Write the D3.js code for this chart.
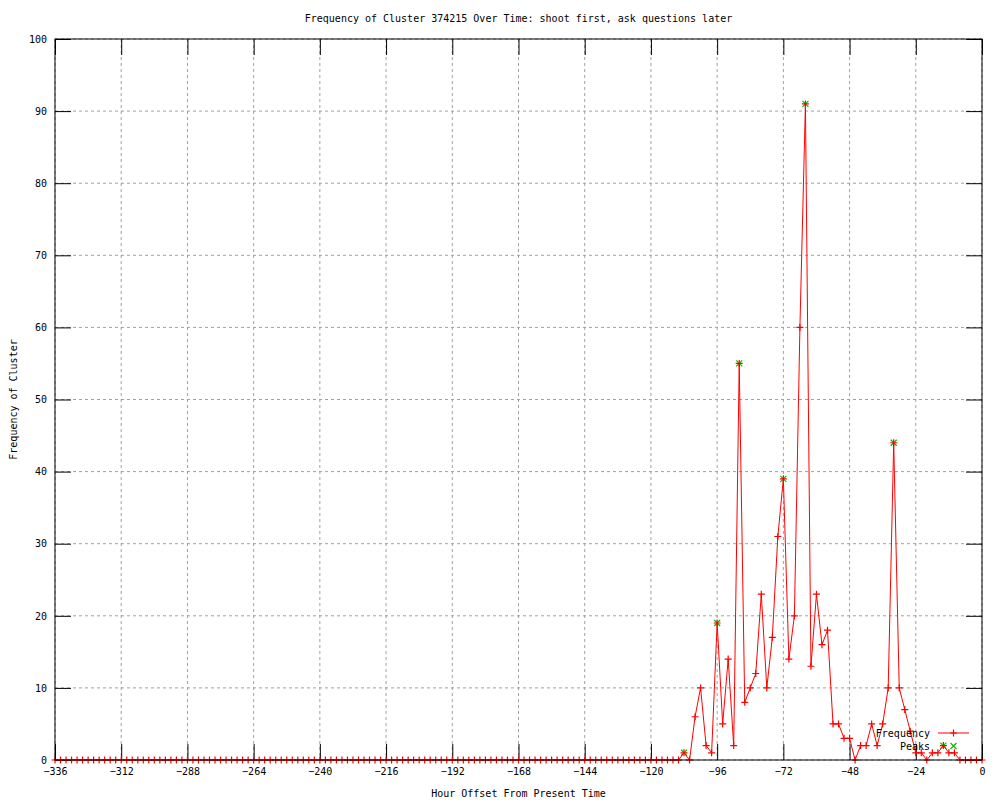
<!DOCTYPE html>
<html>
<head>
    <meta charset="utf-8">
    <title>Frequency of Cluster 374215</title>
    <script src="https://cdn.jsdelivr.net/npm/d3@7"></script>
    <style>
        body { margin: 0; background: #fff; }
        text { font-family: "DejaVu Sans Mono", monospace; font-size: 10px; fill: #000; }
    </style>
</head>
<body>
<svg id="chart" width="1000" height="800"></svg>

<script type="text/javascript">
    const titleText = "Frequency of Cluster 374215 Over Time: shoot first, ask questions later";
    const xLabel = "Hour Offset From Present Time";
    const yLabel = "Frequency of Cluster";

    /// one sample every two hours, oldest first
    const hours = [
        -336, -334, -332, -330, -328, -326, -324, -322, -320, -318, -316, -314,
        -312, -310, -308, -306, -304, -302, -300, -298, -296, -294, -292, -290,
        -288, -286, -284, -282, -280, -278, -276, -274, -272, -270, -268, -266,
        -264, -262, -260, -258, -256, -254, -252, -250, -248, -246, -244, -242,
        -240, -238, -236, -234, -232, -230, -228, -226, -224, -222, -220, -218,
        -216, -214, -212, -210, -208, -206, -204, -202, -200, -198, -196, -194,
        -192, -190, -188, -186, -184, -182, -180, -178, -176, -174, -172, -170,
        -168, -166, -164, -162, -160, -158, -156, -154, -152, -150, -148, -146,
        -144, -142, -140, -138, -136, -134, -132, -130, -128, -126, -124, -122,
        -120, -118, -116, -114, -112, -110, -108, -106, -104, -102, -100, -98,
        -96, -94, -92, -90, -88, -86, -84, -82, -80, -78, -76, -74,
        -72, -70, -68, -66, -64, -62, -60, -58, -56, -54, -52, -50,
        -48, -46, -44, -42, -40, -38, -36, -34, -32, -30, -28, -26,
        -24, -22, -20, -18, -16, -14, -12, -10, -8, -6, -4, -2,
        0
    ];
    const frequency = [
        0, 0, 0, 0, 0, 0, 0, 0, 0, 0, 0, 0,
        0, 0, 0, 0, 0, 0, 0, 0, 0, 0, 0, 0,
        0, 0, 0, 0, 0, 0, 0, 0, 0, 0, 0, 0,
        0, 0, 0, 0, 0, 0, 0, 0, 0, 0, 0, 0,
        0, 0, 0, 0, 0, 0, 0, 0, 0, 0, 0, 0,
        0, 0, 0, 0, 0, 0, 0, 0, 0, 0, 0, 0,
        0, 0, 0, 0, 0, 0, 0, 0, 0, 0, 0, 0,
        0, 0, 0, 0, 0, 0, 0, 0, 0, 0, 0, 0,
        0, 0, 0, 0, 0, 0, 0, 0, 0, 0, 0, 0,
        0, 0, 0, 0, 0, 0, 1, 0, 6, 10, 2, 1,
        19, 5, 14, 2, 55, 8, 10, 12, 23, 10, 17, 31,
        39, 14, 20, 60, 91, 13, 23, 16, 18, 5, 5, 3,
        3, 0, 2, 2, 5, 2, 5, 10, 44, 10, 7, 4,
        1, 1, 0, 1, 1, 2, 1, 1, 0, 0, 0, 0,
        0
    ];

    const peakHours = [-108, -96, -88, -72, -64, -32, -14];
    const peakValues = [1, 19, 55, 39, 91, 44, 2];

    const xTicks = [-336, -312, -288, -264, -240, -216, -192, -168, -144, -120, -96, -72, -48, -24, 0];
    const yTicks = [0, 10, 20, 30, 40, 50, 60, 70, 80, 90, 100];

    const plot = {left: 55, right: 982, top: 39, bottom: 760};
    const tickLen = 16;
    const red = "#ff0000";
    const green = "#00c000";

    const svg = d3.select("#chart");
    svg.append("rect").attr("width", 1000).attr("height", 800).attr("fill", "#fff");

    const x = d3.scaleLinear().domain([-336, 0]).range([plot.left, plot.right]);
    const y = d3.scaleLinear().domain([0, 100]).range([plot.bottom, plot.top]);

    /// grid (gray dotted)
    const grid = svg.append("g");
    grid.selectAll("line.gx")
        .data(xTicks)
        .join("line")
        .attr("x1", d => x(d)).attr("x2", d => x(d))
        .attr("y1", plot.top).attr("y2", plot.bottom);
    grid.selectAll("line.gy")
        .data(yTicks)
        .join("line")
        .attr("class", "gy")
        .attr("x1", plot.left).attr("x2", plot.right)
        .attr("y1", d => y(d)).attr("y2", d => y(d));
    grid.selectAll("line")
        .attr("stroke", "#a0a0a0")
        .attr("stroke-width", 1)
        .attr("stroke-dasharray", "3,3");

    /// axes: ticks point inwards, mirrored on top / right
    function styleAxis(g, hideText) {
        g.select(".domain").remove();
        g.selectAll(".tick line").attr("stroke", "#000");
        g.selectAll(".tick text")
            .style("font-family", '"DejaVu Sans Mono", monospace')
            .style("font-size", "10px")
            .attr("fill", "#000");
        if (hideText) g.selectAll(".tick text").remove();
    }

    svg.append("g")
        .attr("transform", `translate(0, ${plot.bottom})`)
        .call(d3.axisBottom(x).tickValues(xTicks).tickFormat(d3.format("d")).tickSize(-tickLen).tickPadding(8))
        .call(g => styleAxis(g, false));
    svg.append("g")
        .attr("transform", `translate(0, ${plot.top})`)
        .call(d3.axisTop(x).tickValues(xTicks).tickSize(-tickLen))
        .call(g => styleAxis(g, true));
    svg.append("g")
        .attr("transform", `translate(${plot.left}, 0)`)
        .call(d3.axisLeft(y).tickValues(yTicks).tickFormat(d3.format("d")).tickSize(-tickLen).tickPadding(8))
        .call(g => styleAxis(g, false));
    svg.append("g")
        .attr("transform", `translate(${plot.right}, 0)`)
        .call(d3.axisRight(y).tickValues(yTicks).tickSize(-tickLen))
        .call(g => styleAxis(g, true));

    function drawPlus(g, cx, cy, color) {
        g.append("path")
            .attr("d", `M${cx - 3.5},${cy}H${cx + 3.5}M${cx},${cy - 3.5}V${cy + 3.5}`)
            .attr("stroke", color)
            .attr("stroke-width", 1.2)
            .attr("fill", "none");
    }
    function drawCross(g, cx, cy, color) {
        g.append("path")
            .attr("d", `M${cx - 3},${cy - 3}L${cx + 3},${cy + 3}M${cx - 3},${cy + 3}L${cx + 3},${cy - 3}`)
            .attr("stroke", color)
            .attr("stroke-width", 1.2)
            .attr("fill", "none");
    }

    /// peaks first, the frequency line is drawn over them
    const peaks = svg.append("g");
    peakHours.forEach((h, i) => drawCross(peaks, x(h), y(peakValues[i]), green));

    /// frequency line + markers
    const series = hours.map((h, i) => [h, frequency[i]]);
    svg.append("path")
        .datum(series)
        .attr("fill", "none")
        .attr("stroke", red)
        .attr("stroke-width", 1)
        .attr("d", d3.line().x(d => x(d[0])).y(d => y(d[1])));

    const marks = svg.append("g");
    series.forEach(d => drawPlus(marks, x(d[0]), y(d[1]), red));

    /// border on top
    svg.append("rect")
        .attr("x", plot.left).attr("y", plot.top)
        .attr("width", plot.right - plot.left).attr("height", plot.bottom - plot.top)
        .attr("fill", "none").attr("stroke", "#000").attr("stroke-width", 1);

    /// legend
    const legend = svg.append("g");
    legend.append("text").attr("x", 930).attr("y", 733).attr("dy", "0.35em")
        .attr("text-anchor", "end").text("Frequency");
    legend.append("line")
        .attr("x1", 938).attr("x2", 969).attr("y1", 733).attr("y2", 733)
        .attr("stroke", red).attr("stroke-width", 1);
    drawPlus(legend, 953.5, 733, red);
    legend.append("text").attr("x", 930).attr("y", 746).attr("dy", "0.35em")
        .attr("text-anchor", "end").text("Peaks");
    drawCross(legend, 953.5, 746, green);

    /// titles
    svg.append("text")
        .attr("x", (plot.left + plot.right) / 2).attr("y", 18).attr("dy", "0.35em")
        .attr("text-anchor", "middle").text(titleText);
    svg.append("text")
        .attr("x", (plot.left + plot.right) / 2).attr("y", 793).attr("dy", "0.35em")
        .attr("text-anchor", "middle").text(xLabel);
    svg.append("text")
        .attr("transform", `translate(13, ${(plot.top + plot.bottom) / 2}) rotate(-90)`)
        .attr("dy", "0.35em")
        .attr("text-anchor", "middle").text(yLabel);
</script>
</body>
</html>
